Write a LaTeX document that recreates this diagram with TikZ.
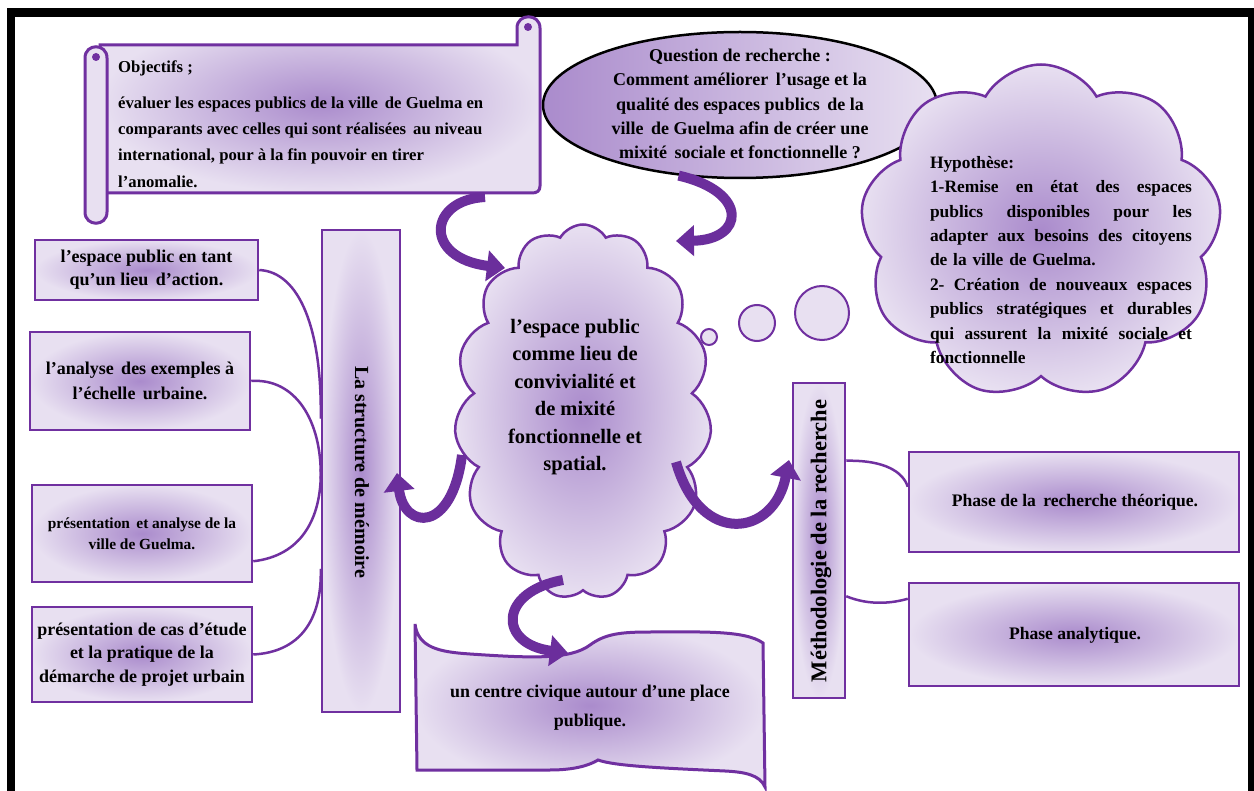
\documentclass[tikz,border=0pt]{standalone}
\usepackage{fontspec}
\setmainfont{Liberation Serif}
\usetikzlibrary{shapes.symbols,shapes.geometric,arrows.meta,calc}
\definecolor{pline}{HTML}{7030A0}
\definecolor{plight}{HTML}{E8E0F1}
\definecolor{pmid}{HTML}{AA8BCC}
\definecolor{parrow}{HTML}{6B2E9C}
\newcommand{\jl}[1]{\makebox[262pt][l]{#1}}
\tikzset{
  pshade/.style={shade, inner color=pmid, outer color=plight},
  pbox/.style={rectangle, draw=pline, line width=2.5pt, pshade, inner sep=0pt},
  ptxt/.style={font=\bfseries\fontsize{18}{24}\selectfont, align=center, text=black, inner sep=0pt},
  conn/.style={draw=pline, line width=2.5pt},
  bigarrow/.style={draw=parrow, line width=10pt, -{Triangle[length=18pt,width=30pt]}},
  bubble/.style={circle, draw=pline, line width=2pt, fill=plight, inner sep=0pt},
  pcloud/.style={cloud, cloud ignores aspect, draw=pline, line width=2.5pt, pshade, inner sep=0pt},
}
\begin{document}
\begin{tikzpicture}[x=1pt,y=-1pt]
\useasboundingbox (0,0) rectangle (1254,791);
\fill[white] (0,0) rectangle (1254,791);
% frame
\fill[black] (7,8) rectangle (15,791);
\fill[black] (7,8) rectangle (1254,17);
\fill[black] (1248,8) rectangle (1254,791);

% scroll (objectifs)
\path[draw=pline, line width=3pt, pshade] (100,45) -- (517,45) -- (517,28)
  .. controls (517,13) and (540,13) .. (540,28) -- (540,186)
  .. controls (540,191) and (537,193) .. (532,193) -- (100,193) -- cycle;
\path[draw=pline, line width=3pt, fill=plight] (85,58) .. controls (85,43) and (107,43) .. (107,58)
  -- (107,212) .. controls (107,227) and (85,227) .. (85,212) -- cycle;
\fill[pline] (96,57) circle (4pt);
\fill[pline] (528,27) circle (4pt);
\node[ptxt, font=\bfseries\fontsize{16.7}{26.3}\selectfont, align=left, anchor=north west] (objT) at (118,61)
  {Objectifs ;\\[9pt]
   évaluer les espaces publics de la ville\, de Guelma en\\
   comparants avec celles qui sont réalisées\, au niveau\\
   international, pour à la fin pouvoir en tirer\\
   l’anomalie.};

% question ellipse
\node[ellipse, draw=black, line width=2.5pt, left color=pmid, right color=plight,
      minimum width=394pt, minimum height=146pt, inner sep=0pt] (q) at (740,105) {};
\node[ptxt, font=\bfseries\fontsize{18}{24.25}\selectfont] (qt) at (740,104)
  {Question de recherche :\\
   Comment améliorer\, l’usage et la\\
   qualité des espaces publics\, de la\\
   ville\, de Guelma afin de créer une\\
   mixité\, sociale et fonctionnelle ?};

% hypothesis cloud
\node[pcloud, cloud puffs=9, cloud puff arc=120, minimum width=362pt, minimum height=335pt] (hyp) at (1041,232) {};
\node[font=\bfseries\fontsize{17.4}{24.4}\selectfont, text width=262pt, align=left, inner sep=0pt] (ht) at (1061,260)
  {Hypothèse:\\
   \jl{1-Remise\hfill en\hfill état\hfill des\hfill espaces}\\
   \jl{publics\hfill disponibles\hfill pour\hfill les}\\
   \jl{adapter\hfill aux\hfill besoins\hfill des\hfill citoyens}\\
   de la ville de Guelma.\\
   \jl{2-\hfill Création\hfill de\hfill nouveaux\hfill espaces}\\
   \jl{publics\hfill stratégiques\hfill et\hfill durables}\\
   \jl{qui\hfill assurent\hfill la\hfill mixité\hfill sociale\hfill et}\\
   fonctionnelle};

% thought bubbles
\node[bubble, minimum size=16pt] (b1) at (709,337) {};
\node[bubble, minimum size=36pt] (b2) at (757,323) {};
\node[bubble, minimum size=54pt] (b3) at (822,313) {};

% central cloud
\node[pcloud, cloud puffs=15, cloud puff arc=120, minimum width=257pt, minimum height=375pt] (cc) at (583,412) {};
\node[font=\bfseries\fontsize{20.5}{27.4}\selectfont, align=center, inner sep=0pt] (cct) at (575,397)
  {l’espace public\\ comme lieu de\\ convivialité et\\ de mixité\\ fonctionnelle et\\ spatial.};

% left boxes
\node[pbox, minimum width=223pt, minimum height=60pt] (l1) at (146.5,270) {};
\node[ptxt, font=\bfseries\fontsize{18}{23}\selectfont] (l1t) at (l1) {l’espace public en tant\\ qu’un lieu\, d’action.};
\node[pbox, minimum width=220pt, minimum height=98pt] (l2) at (140,381) {};
\node[ptxt, font=\bfseries\fontsize{18}{25}\selectfont] (l2t) at (l2) {l’analyse\, des exemples à\\ l’échelle\, urbaine.};
\node[pbox, minimum width=220pt, minimum height=97pt] (l3) at (142,533.5) {};
\node[ptxt, font=\bfseries\fontsize{15.4}{21}\selectfont] (l3t) at (l3) {présentation\, et analyse de la\\ ville de Guelma.};
\node[pbox, minimum width=220pt, minimum height=95pt] (l4) at (142,654.5) {};
\node[ptxt, font=\bfseries\fontsize{18}{23.5}\selectfont] (l4t) at (l4) {présentation de cas d’étude\\ et la pratique de la\\ démarche de projet urbain};

% structure bar
\node[pbox, minimum width=78pt, minimum height=482pt] (sb) at (361,471) {};
\node[ptxt, font=\bfseries\fontsize{20}{22}\selectfont, rotate=-90] (sbt) at (362,472) {La structure de mémoire};

% methodology bar
\node[pbox, minimum width=52pt, minimum height=315pt] (mb) at (819,540.5) {};
\node[ptxt, font=\bfseries\fontsize{22.5}{24}\selectfont, rotate=90] (mbt) at (821,541) {Méthodologie de la recherche};

% right boxes
\node[pbox, minimum width=330pt, minimum height=100pt] (r1) at (1074,502) {};
\node[ptxt, font=\bfseries\fontsize{17.6}{22}\selectfont] (r1t) at (1075,502) {Phase de la\, recherche théorique.};
\node[pbox, minimum width=330pt, minimum height=103pt] (r2) at (1074,634.5) {};
\node[ptxt, font=\bfseries\fontsize{17.6}{22}\selectfont] (r2t) at (1075,635) {Phase analytique.};

% banner
\path[draw=pline, line width=3pt, pshade] (415,624)
  .. controls (418,648) and (440,652) .. (470,654)
  .. controls (530,658) and (570,660) .. (590,645)
  .. controls (605,634) and (620,632) .. (650,632)
  .. controls (700,632) and (745,630) .. (763,643)
  -- (765,787)
  .. controls (760,775) and (745,772) .. (725,771)
  .. controls (660,768) and (615,766) .. (598,760)
  .. controls (590,765) and (575,770) .. (550,770)
  -- (417,770) -- cycle;
\node[ptxt, font=\bfseries\fontsize{17.9}{29}\selectfont] (bt) at (590,708) {un centre civique autour d’une place\\ publique.};

% connectors left
\draw[conn] (l1.east) .. controls (300,272) and (322,330) .. ($(sb.north west)+(0,190)$);
\draw[conn] (l2.east) .. controls (295,378) and (322,420) .. ($(sb.north west)+(0,250)$);
\draw[conn] ($(l3.south east)+(0,-22)$) .. controls (300,556) and (322,520) .. ($(sb.north west)+(0,240)$);
\draw[conn] (l4.east) .. controls (300,652) and (322,620) .. ($(sb.north west)+(0,340)$);
% connectors right
\draw[conn] ($(mb.north east)+(0,79)$) .. controls (885,460) and (903,472) .. ($(r1.north west)+(0,36)$);
\draw[conn] ($(mb.south east)+(0,-103)$) .. controls (870,606) and (893,603) .. ($(r2.north west)+(0,17)$);

% curved arrows
\coordinate (a1s) at (485,197);
\coordinate (a1e) at (505,268);
\draw[bigarrow] (a1s) .. controls (428,200) and (423,258) .. (a1e);
\coordinate (a2e) at (676,241);
\draw[bigarrow] (q.229) .. controls (750,192) and (744,240) .. (a2e);
\coordinate (a3s) at (462,455);
\coordinate (a3e) at (397,473);
\draw[bigarrow] (a3s) .. controls (452,534) and (404,530) .. (a3e);
\coordinate (a4s) at (676,462);
\coordinate (a4e) at (789,460);
\draw[bigarrow] (a4s) .. controls (700,547) and (774,537) .. (a4e);
\coordinate (a5s) at (563,580);
\coordinate (a5e) at (568,653);
\draw[bigarrow] (a5s) .. controls (498,592) and (498,644) .. (a5e);
\end{tikzpicture}
\end{document}
